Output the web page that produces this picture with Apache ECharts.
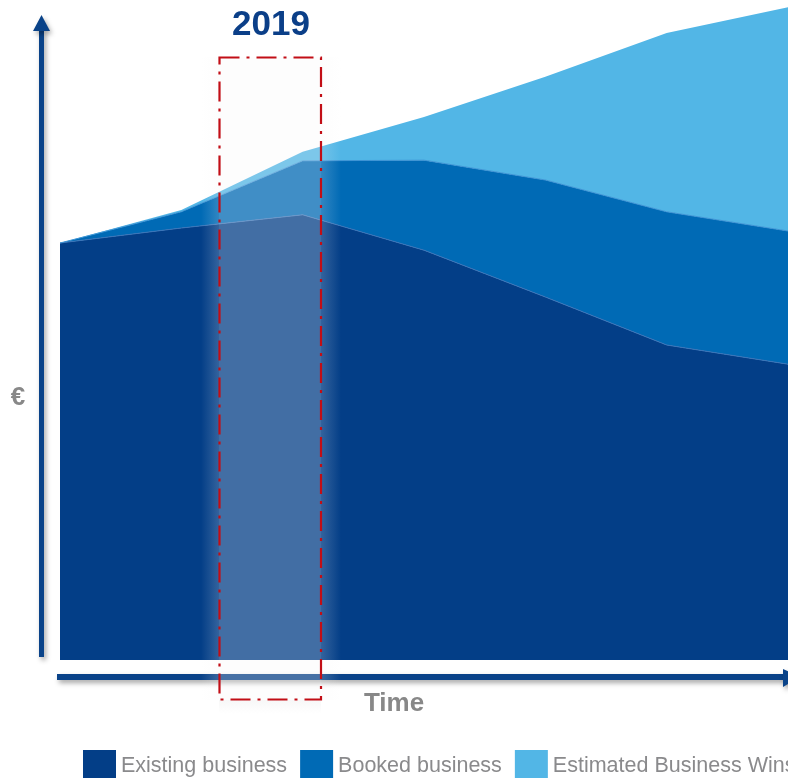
<!DOCTYPE html>
<html>
<head>
<meta charset="utf-8">
<script src="https://cdn.jsdelivr.net/npm/echarts@6/dist/echarts.min.js"></script>
<style>
html,body{margin:0;padding:0;background:#fff;}
#chart{width:788px;height:778px;}
</style>
</head>
<body>
<div id="chart"></div>
<script>
// ---- data ----
const periods = ["P1", "P2", "P3", "P4", "P5", "P6", "P7"];
const existingBusiness = [69.5, 72.0, 74.2, 68.3, 60.5, 52.5, 49.3];
const bookedBusiness   = [0.0, 2.7, 9.0, 15.0, 19.5, 22.2, 22.2];
const estimatedWins    = [0.0, 0.3, 1.5, 7.2, 17.2, 29.8, 37.3];
const seriesNames = ["Existing business", "Booked business", "Estimated Business Wins"];
const highlightLabel = "2019";
const yAxisLabel = "€";
const xAxisLabel = "Time";

const colors = ["#033E87", "#006AB5", "#52B6E6"];
const edgeColors = ["#3b74b8", "#3d93d4", "#52B6E6"];
const FONT = "'Liberation Sans', Arial, sans-serif";

const chart = echarts.init(document.getElementById('chart'), null, {renderer: 'canvas'});

const dataSets = [existingBusiness, bookedBusiness, estimatedWins];
const series = dataSets.map((d, i) => ({
  name: seriesNames[i],
  type: 'line',
  stack: 'total',
  data: d,
  symbol: 'none',
  smooth: false,
  z: 2,
  lineStyle: {width: i === 2 ? 0 : 1, color: edgeColors[i]},
  areaStyle: {color: colors[i], opacity: 1},
  itemStyle: {color: colors[i]}
}));

const arrowShadow = {shadowBlur: 5, shadowOffsetX: 2, shadowOffsetY: 3, shadowColor: 'rgba(0,0,0,0.35)'};
const glowA = 'rgba(246,246,246,0.26)';
const glow0 = 'rgba(246,246,246,0)';

chart.setOption({
  animation: false,
  backgroundColor: '#ffffff',
  color: colors,
  grid: {left: 60, top: 0, width: 732, height: 660, containLabel: false},
  xAxis: {type: 'category', data: periods, boundaryGap: false, show: false},
  yAxis: {type: 'value', min: 0, max: 110, show: false},
  legend: {
    left: 83, top: 750, padding: 0, width: 1400, orient: 'horizontal',
    icon: 'rect', itemWidth: 33, itemHeight: 33, itemGap: 13,
    data: seriesNames,
    textStyle: {fontSize: 21.5, color: '#8a8a8c', fontFamily: FONT, padding: [4, 0, 0, 0]}
  },
  series: series,
  graphic: [
    // y axis arrow
    {type: 'rect', z: 10, shape: {x: 39, y: 30, width: 5, height: 627},
     style: Object.assign({fill: '#0A4389'}, arrowShadow)},
    {type: 'polygon', z: 10, shape: {points: [[33, 31], [50, 31], [41.5, 15]]},
     style: Object.assign({fill: '#0A4389'}, arrowShadow)},
    // x axis arrow
    {type: 'rect', z: 10, shape: {x: 57, y: 674, width: 730, height: 6},
     style: Object.assign({fill: '#0A4389'}, arrowShadow)},
    {type: 'polygon', z: 10, shape: {points: [[783, 669], [783, 687], [800, 677]]},
     style: Object.assign({fill: '#0A4389'}, arrowShadow)},
    // highlight overlay with soft edges
    {type: 'rect', z: 20, shape: {x: 219, y: 57, width: 102, height: 643},
     style: {fill: glowA}},
    {type: 'rect', z: 20, shape: {x: 201, y: 57, width: 18, height: 643},
     style: {fill: new echarts.graphic.LinearGradient(0, 0, 1, 0, [{offset: 0, color: glow0}, {offset: 1, color: 'rgba(246,246,246,0.2)'}])}},
    {type: 'rect', z: 20, shape: {x: 321, y: 57, width: 20, height: 643},
     style: {fill: new echarts.graphic.LinearGradient(0, 0, 1, 0, [{offset: 0, color: 'rgba(246,246,246,0.2)'}, {offset: 1, color: glow0}])}},
    {type: 'rect', z: 20, shape: {x: 219, y: 700, width: 102, height: 14},
     style: {fill: new echarts.graphic.LinearGradient(0, 0, 0, 1, [{offset: 0, color: 'rgba(240,240,240,0.5)'}, {offset: 1, color: 'rgba(240,240,240,0)'}])}},
    // red dash-dot frame
    {type: 'rect', z: 30, shape: {x: 219.5, y: 57.5, width: 101.5, height: 642},
     style: {fill: 'none', stroke: '#C20E16', lineWidth: 2.2, lineDash: [20, 7, 3, 7]}},
    // texts
    {type: 'text', z: 30, style: {
      text: highlightLabel, x: 271, y: 25, align: 'center', verticalAlign: 'middle',
      font: 'bold 35px ' + FONT, fill: '#0B3F88'}},
    {type: 'text', z: 30, style: {
      text: yAxisLabel, x: 18, y: 398, align: 'center', verticalAlign: 'middle',
      font: 'bold 26px ' + FONT, fill: '#888888'}},
    {type: 'text', z: 30, style: {
      text: xAxisLabel, x: 394, y: 704, align: 'center', verticalAlign: 'middle',
      font: 'bold 26px ' + FONT, fill: '#888888'}}
  ]
});
</script>
</body>
</html>
